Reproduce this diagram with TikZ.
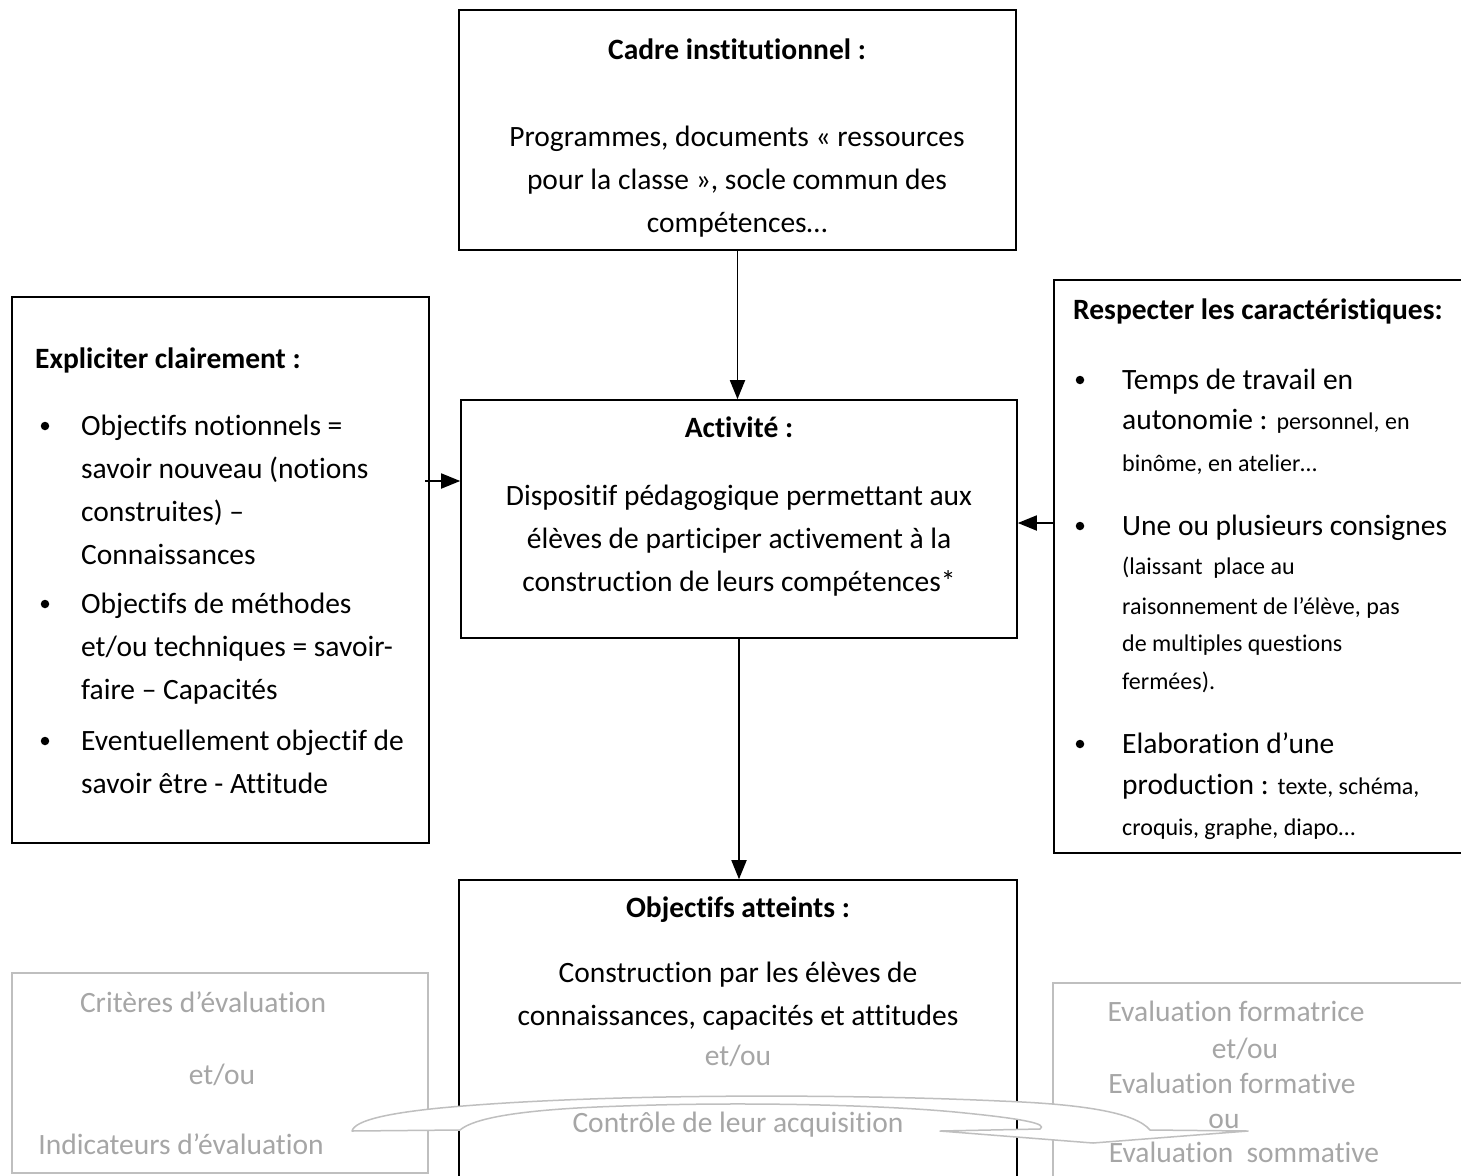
\documentclass[tikz,border=0pt]{standalone}
\usepackage{fontspec}
\setmainfont{Carlito}[Ligatures={NoCommon}]
\usetikzlibrary{arrows.meta}
\definecolor{txtgray}{HTML}{A6A6A6}
\definecolor{boxgray}{HTML}{BFBFBF}
\begin{document}
\begin{tikzpicture}[x=1pt,y=-1pt,
  box/.style={draw=black,line width=1.6pt,inner sep=0pt},
  gbox/.style={draw=boxgray,line width=1.6pt,inner sep=0pt},
  txt/.style={anchor=base,inner sep=0pt,font=\fontsize{29.5}{36}\selectfont},
  ltxt/.style={txt,anchor=base west},
  htxt/.style={txt,font=\fontsize{29.5}{36}\selectfont\bfseries},
  lhtxt/.style={htxt,anchor=base west},
  gtxt/.style={txt,text=txtgray},
  small/.style={font=\fontsize{24}{28}\selectfont},
  arr/.style={line width=1.8pt,-{Triangle[length=19pt,width=15pt]}},
  bul/.style={circle,fill=black,inner sep=0pt,minimum size=8.5pt},
  ribbon/.style={draw=boxgray,line width=1.5pt,fill=white,line join=round}]
\useasboundingbox (0,0) rectangle (1461,1175);
\clip (0,0) rectangle (1461,1175);
\fill[white] (0,0) rectangle (1461,1175);
% boxes
\node[box,minimum width=557pt,minimum height=240pt] (cadre) at (737.5,130) {};
\node[box,minimum width=556pt,minimum height=238pt] (activite) at (739,519) {};
\node[box,minimum width=417pt,minimum height=546pt] (gauche) at (220.5,570) {};
\node[box,minimum width=421pt,minimum height=573pt] (droite) at (1264.5,566.5) {};
\node[box,minimum width=558pt,minimum height=310pt] (objectifs) at (738,1035) {};
\node[gbox,minimum width=416pt,minimum height=200pt] (criteres) at (220,1073) {};
\node[gbox,minimum width=422pt,minimum height=207pt] (evaluation) at (1264,1086.5) {};
% arrows
\draw[arr] (cadre.south) -- (cadre.south |- activite.north);
\draw[arr] (activite.south) -- (activite.south |- objectifs.north);
\coordinate (la) at (425,481);
\draw[arr] (la) -- (la -| activite.west);
\coordinate (ra) at (1053,523);
\draw[arr] (ra) -- (ra -| activite.east);
% ribbon arrow
\path[ribbon] (352,1131) -- (460,1130)
  .. controls (480,1113) and (560,1108) .. (623,1106)
  .. controls (760,1101) and (900,1106) .. (965,1113)
  .. controls (1025,1119) and (1048,1124) .. (1040,1129)
  -- (940,1131) -- (1093,1143) -- (1248,1131) -- (1150,1130)
  .. controls (1135,1112) and (1080,1104) .. (1000,1101)
  .. controls (850,1094) and (600,1093) .. (440,1108)
  .. controls (390,1113) and (355,1120) .. (352,1131) -- cycle;
% top box text
\node[htxt] (c0) at (737,59) {Cadre institutionnel :};
\node[txt] (c1) at (737,146) {Programmes, documents « ressources};
\node[txt] (c2) at (737,189) {pour la classe », socle commun des};
\node[txt] (c3) at (737,232) {compétences…};
% activity text
\node[htxt] (a0) at (739,437) {Activité :};
\node[txt] (a1) at (739,505) {Dispositif pédagogique permettant aux};
\node[txt] (a2) at (739,548) {élèves de participer activement à la};
\node[txt] (a3) at (739,591) {construction de leurs compétences*};
% left box text
\node[lhtxt] (g0) at (35,368) {Expliciter clairement :};
\node[bul] (gb1) at (45,426) {};
\node[ltxt] (g1) at (81,435) {Objectifs notionnels =};
\node[ltxt] (g2) at (81,478) {savoir nouveau (notions};
\node[ltxt] (g3) at (81,521) {construites) –};
\node[ltxt] (g4) at (81,564) {Connaissances};
\node[bul] (gb2) at (45,604) {};
\node[ltxt] (g5) at (81,613) {Objectifs de méthodes};
\node[ltxt] (g6) at (81,656) {et/ou techniques = savoir-};
\node[ltxt] (g7) at (81,699) {faire – Capacités};
\node[bul] (gb3) at (45,741) {};
\node[ltxt] (g8) at (81,750) {Eventuellement objectif de};
\node[ltxt] (g9) at (81,793) {savoir être - Attitude};
% right box text
\node[lhtxt] (d0) at (1073,319) {Respecter les caractéristiques:};
\node[bul] (db1) at (1080,380) {};
\node[ltxt] (d1) at (1122,389) {Temps de travail en};
\node[ltxt] (d2) at (1122,429) {autonomie : {\fontsize{24}{28}\selectfont personnel, en}};
\node[ltxt,small] (d3) at (1122,471) {binôme, en atelier…};
\node[bul] (db2) at (1080,526) {};
\node[ltxt] (d4) at (1122,535) {Une ou plusieurs consignes};
\node[ltxt,small] (d5) at (1122,574) {(laissant\ \ place au};
\node[ltxt,small] (d6) at (1122,614) {raisonnement de l’élève, pas};
\node[ltxt,small] (d7) at (1122,651) {de multiples questions};
\node[ltxt,small] (d8) at (1122,689) {fermées).};
\node[bul] (db3) at (1080,744) {};
\node[ltxt] (d9) at (1122,753) {Elaboration d’une};
\node[ltxt] (d10) at (1122,794) {production : {\fontsize{24}{28}\selectfont texte, schéma,}};
\node[ltxt,small] (d11) at (1122,835) {croquis, graphe, diapo…};
% objectifs text
\node[htxt] (o0) at (738,917) {Objectifs atteints :};
\node[txt] (o1) at (738,982) {Construction par les élèves de};
\node[txt] (o2) at (738,1025) {connaissances, capacités et attitudes};
\node[gtxt] (o3) at (738,1065) {et/ou};
\node[gtxt] (o4) at (738,1132) {Contrôle de leur acquisition};
% bottom-left gray text
\node[gtxt] (k1) at (203,1012) {Critères d’évaluation};
\node[gtxt] (k2) at (222,1084) {et/ou};
\node[gtxt] (k3) at (181,1154) {Indicateurs d’évaluation};
% bottom-right gray text
\node[gtxt] (e1) at (1236,1021) {Evaluation formatrice};
\node[gtxt] (e2) at (1245,1058) {et/ou};
\node[gtxt] (e3) at (1232,1093) {Evaluation formative};
\node[gtxt] (e4) at (1224,1128) {ou};
\node[gtxt] (e5) at (1244,1162) {Evaluation\ \ sommative};
\end{tikzpicture}
\end{document}
